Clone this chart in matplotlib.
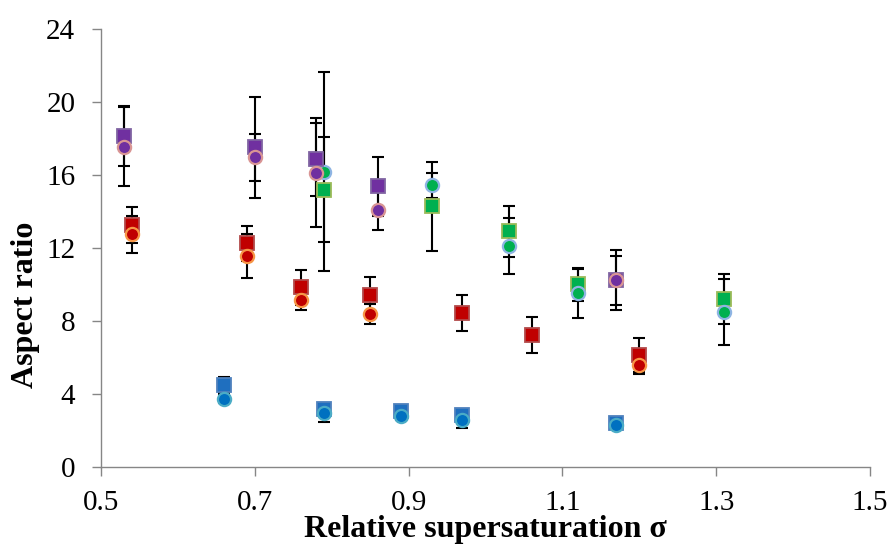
import numpy as np
import matplotlib.pyplot as plt

# -------------------------
# Daten (Aspect ratio vs. sigma)
# -------------------------

x_blue = [0.66, 0.79, 0.89, 0.97, 1.17]
blue_sq = [4.5, 3.2, 3.05, 2.85, 2.4]
blue_sq_err = [0.45, 0.3, 0.2, 0.3, 0.15]
blue_ci = [3.75, 2.95, 2.8, 2.6, 2.28]
blue_ci_err = [0.25, 0.5, 0.2, 0.45, 0.15]

x_red_sq = [0.54, 0.69, 0.76, 0.85, 0.97, 1.06, 1.20]
red_sq = [13.25, 12.25, 9.85, 9.45, 8.45, 7.22, 6.15]
red_sq_err = [1.0, 0.98, 0.97, 0.98, 1.0, 0.98, 0.94]
x_red_ci = [0.54, 0.69, 0.76, 0.85, 1.20]
red_ci = [12.75, 11.55, 9.15, 8.38, 5.6]
red_ci_err = [1.02, 1.2, 0.53, 0.54, 0.49]

x_green = [0.79, 0.93, 1.03, 1.12, 1.31]
green_sq = [15.2, 14.28, 12.92, 10.02, 9.18]
green_sq_err = [2.87, 2.44, 1.39, 0.9, 1.37]
green_ci = [16.17, 15.43, 12.1, 9.52, 8.5]
green_ci_err = [5.45, 0.68, 1.53, 1.33, 1.8]

x_purple = [0.53, 0.70, 0.78, 0.86, 1.17]
purple_sq = [18.15, 17.52, 16.85, 15.38, 10.24]
purple_sq_err = [1.65, 2.78, 2.0, 1.6, 1.65]
purple_ci = [17.55, 16.97, 16.13, 14.07, 10.22]
purple_ci_err = [2.15, 1.29, 3.0, 1.07, 1.35]

x_ticks = [0.5, 0.7, 0.9, 1.1, 1.3, 1.5]
y_ticks = [0, 4, 8, 12, 16, 20, 24]

# (x, y, err, marker, fill, edge)
series = [
    (x_blue, blue_sq, blue_sq_err, "s", "#1F6FBF", "#4F81BD"),
    (x_blue, blue_ci, blue_ci_err, "o", "#0070C0", "#4BACC6"),
    (x_red_sq, red_sq, red_sq_err, "s", "#C00000", "#B24A4A"),
    (x_red_ci, red_ci, red_ci_err, "o", "#C00000", "#F79646"),
    (x_green, green_sq, green_sq_err, "s", "#00B050", "#9BBB59"),
    (x_green, green_ci, green_ci_err, "o", "#00B050", "#8EB4E3"),
    (x_purple, purple_sq, purple_sq_err, "s", "#7030A0", "#8064A2"),
    (x_purple, purple_ci, purple_ci_err, "o", "#7030A0", "#D99594"),
]

plt.rcParams["font.family"] = ["Liberation Serif", "DejaVu Serif"]

fig = plt.figure(figsize=(8.93, 5.44), dpi=100, facecolor="white")
ax = fig.add_axes([0.1131, 0.1415, 0.8611, 0.8052])

# Fehlerbalken unter allen Markern
for xs, ys, errs, mk, fc, ec in series:
    ax.errorbar(xs, ys, yerr=errs, fmt="none", ecolor="black", elinewidth=1.5,
                capsize=4.3, capthick=1.5, zorder=2)

z = 3
for xs, ys, errs, mk, fc, ec in series:
    ms = 10 if mk == "s" else 9.5
    mew = 1.3 if mk == "s" else 1.6
    ax.plot(xs, ys, linestyle="none", marker=mk, markersize=ms,
            markerfacecolor=fc, markeredgecolor=ec, markeredgewidth=mew, zorder=z)
    z += 1

ax.set_xlim(0.5, 1.5)
ax.set_ylim(0, 24)
ax.set_xticks(x_ticks)
ax.set_xticklabels([f"{v:.1f}" for v in x_ticks])
ax.set_yticks(y_ticks)

for side in ["top", "right"]:
    ax.spines[side].set_visible(False)
for side in ["left", "bottom"]:
    ax.spines[side].set_color("#868686")
    ax.spines[side].set_linewidth(1.0)

ax.tick_params(axis="both", direction="out", length=6.5, width=1.0, color="#868686",
               labelsize=21, labelcolor="black")
ax.tick_params(axis="x", pad=10)
ax.tick_params(axis="y", pad=12)

fig.text(0.5437, 0.0135, "Relative supersaturation σ", ha="center", va="baseline",
         fontsize=23, fontweight="bold")
fig.text(0.028, 0.439, "Aspect ratio", ha="center", va="center", rotation=90,
         fontsize=23, fontweight="bold")

plt.savefig("out.png", dpi=100)
